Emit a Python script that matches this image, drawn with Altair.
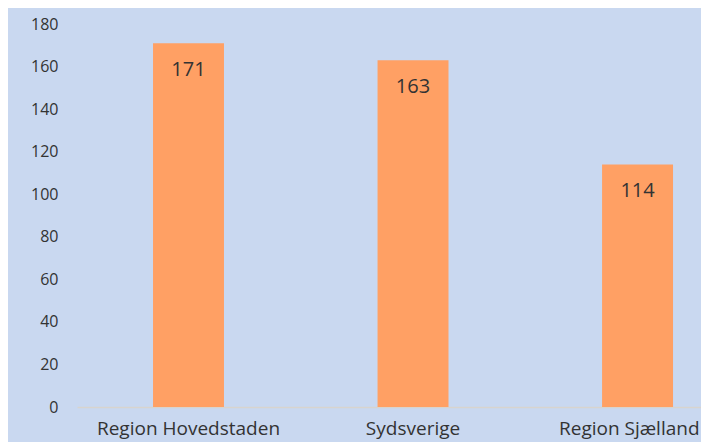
import altair as alt
import pandas as pd

regions = ["Region Hovedstaden", "Sydsverige", "Region Sjælland"]
values = [171, 163, 114]
y_ticks = [0, 20, 40, 60, 80, 100, 120, 140, 160, 180]

df = pd.DataFrame({"region": regions, "value": values})

FONT = "Open Sans"
BG = "#C9D8F0"
BAR = "#FFA064"
TXT = "#333333"

last = regions[-1]

x_enc = alt.X(
    "region:N",
    sort=regions,
    title=None,
    scale=alt.Scale(paddingInner=0.684, paddingOuter=0.2316, align=0.731),
    axis=alt.Axis(
        labelAngle=0, labelFontSize=19, labelColor=TXT, labelFont=FONT,
        ticks=False, domain=True, domainColor="#D8D4CE", domainWidth=1.5,
        labelPadding=12, labelOverlap=False, labelLimit=0,
        labelAlign=alt.ExprRef(expr=f"datum.value == '{last}' ? 'right' : 'center'"),
        labelOffset=alt.ExprRef(expr=f"datum.value == '{last}' ? 62 : 0"),
    ),
)
y_enc = alt.Y(
    "value:Q",
    title=None,
    scale=alt.Scale(domain=[0, 180], nice=False),
    axis=alt.Axis(
        values=y_ticks, grid=False, domain=False, ticks=False,
        labelFontSize=16, labelColor=TXT, labelFont=FONT, labelPadding=19,
    ),
)

bars = alt.Chart(df).mark_bar(color=BAR).encode(x=x_enc, y=y_enc)
labels = alt.Chart(df).mark_text(
    baseline="middle", dy=27, fontSize=20, color=TXT, font=FONT
).encode(x=alt.X("region:N", sort=regions), y="value:Q", text="value:Q")

chart = (
    alt.layer(bars, labels)
    .properties(
        width=624, height=383,
        background=BG,
        autosize=alt.AutoSizeParams(type="none"),
        padding={"left": 69, "top": 16, "right": 0, "bottom": 35},
    )
    .configure_view(stroke=None)
)

chart.save("out.html", embed_options={"renderer": "svg", "actions": False})
